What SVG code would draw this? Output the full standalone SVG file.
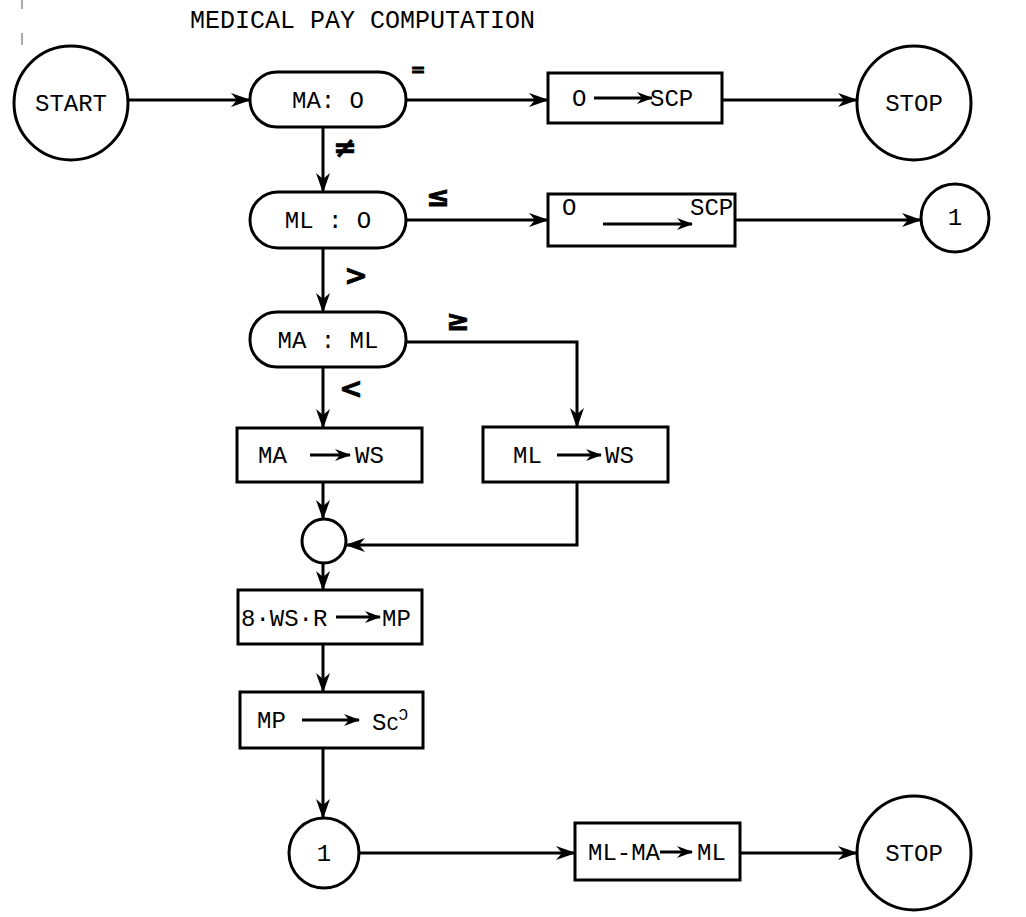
<svg xmlns="http://www.w3.org/2000/svg" width="1026" height="917" viewBox="0 0 1026 917">
<style>
.s{fill:#fff;stroke:#000;stroke-width:3}
.c{fill:none;stroke:#000;stroke-width:3}
.ia{fill:none;stroke:#000;stroke-width:3}
.t{font-family:"Liberation Mono","Courier New",monospace;font-size:24px;fill:#000}
.m{text-anchor:middle}
.l{font-family:"DejaVu Sans","Liberation Sans",sans-serif;font-weight:bold;font-size:28px;fill:#000;stroke:#000;stroke-width:0.8;text-anchor:middle}
</style>
<defs>
<marker id="ah" viewBox="0 0 20 14" refX="19" refY="7" markerWidth="20" markerHeight="14" markerUnits="userSpaceOnUse" orient="auto">
<path d="M0,0 L20,7 L0,14 L6,7 Z" fill="#000"/>
</marker>
<marker id="sa" viewBox="0 0 16 12" refX="15" refY="6" markerWidth="16" markerHeight="12" markerUnits="userSpaceOnUse" orient="auto">
<path d="M0,0 L16,6 L0,12 L5,6 Z" fill="#000"/>
</marker>
</defs>
<rect width="1026" height="917" fill="#fff"/>
<line x1="22" y1="0" x2="22" y2="9" stroke="#555" stroke-width="1"/>
<line x1="22" y1="33" x2="22" y2="45" stroke="#555" stroke-width="1"/>
<text class="t" x="190" y="28" style="font-size:25px">MEDICAL PAY COMPUTATION</text>

<g id="connectors">
<path class="c" d="M128,100 H250" marker-end="url(#ah)"/>
<path class="c" d="M406,100 H548" marker-end="url(#ah)"/>
<path class="c" d="M722,100 H857" marker-end="url(#ah)"/>
<path class="c" d="M323,127 V192" marker-end="url(#ah)"/>
<path class="c" d="M406,220 H548" marker-end="url(#ah)"/>
<path class="c" d="M735,220 H921" marker-end="url(#ah)"/>
<path class="c" d="M323,248 V312" marker-end="url(#ah)"/>
<path class="c" d="M406,342 H577 V427" marker-end="url(#ah)"/>
<path class="c" d="M323,367 V428" marker-end="url(#ah)"/>
<path class="c" d="M323,482 V519" marker-end="url(#ah)"/>
<path class="c" d="M577,482 V545 H346" marker-end="url(#ah)"/>
<path class="c" d="M323,563 V590" marker-end="url(#ah)"/>
<path class="c" d="M323,644 V692" marker-end="url(#ah)"/>
<path class="c" d="M323,748 V818" marker-end="url(#ah)"/>
<path class="c" d="M359,853 H575" marker-end="url(#ah)"/>
<path class="c" d="M740,853 H857" marker-end="url(#ah)"/>
<text class="l" x="418" y="76" style="font-size:18px">=</text>
<text class="l" x="345" y="157">≠</text>
<text class="l" x="438" y="206">≤</text>
<text class="l" x="356" y="285">&gt;</text>
<text class="l" x="458" y="330">≥</text>
<text class="l" x="351" y="398">&lt;</text>
</g>

<g id="start">
<circle class="s" cx="71" cy="103" r="57"/>
<text class="t m" x="71" y="111">START</text>
</g>
<g id="ma0">
<rect class="s" x="250" y="72" width="156" height="55" rx="27"/>
<text class="t m" x="328" y="108">MA: O</text>
</g>
<g id="set1">
<rect class="s" x="548" y="73" width="174" height="50"/>
<text class="t" x="572" y="106">O</text>
<path class="ia" d="M594,98 H652" marker-end="url(#sa)"/>
<text class="t" x="650" y="106">SCP</text>
</g>
<g id="stop1">
<circle class="s" cx="914" cy="103" r="57"/>
<text class="t m" x="914" y="111">STOP</text>
</g>
<g id="ml0">
<rect class="s" x="250" y="192" width="156" height="56" rx="28"/>
<text class="t m" x="328" y="228">ML : O</text>
</g>
<g id="set2">
<rect class="s" x="548" y="194" width="187" height="52"/>
<text class="t" x="562" y="215">O</text>
<path class="ia" d="M603,224 H692" marker-end="url(#sa)"/>
<text class="t" x="690" y="215">SCP</text>
</g>
<g id="conn1a">
<circle class="s" cx="955" cy="218" r="34"/>
<text class="t m" x="955" y="225">1</text>
</g>
<g id="maml">
<rect class="s" x="250" y="312" width="156" height="55" rx="27"/>
<text class="t m" x="328" y="348">MA : ML</text>
</g>
<g id="mawsbox">
<rect class="s" x="237" y="428" width="185" height="54"/>
<text class="t" x="258" y="463">MA</text>
<path class="ia" d="M310,455 H350" marker-end="url(#sa)"/>
<text class="t" x="355" y="463">WS</text>
</g>
<g id="mlwsbox">
<rect class="s" x="483" y="427" width="185" height="55"/>
<text class="t" x="513" y="463">ML</text>
<path class="ia" d="M557,455 H601" marker-end="url(#sa)"/>
<text class="t" x="605" y="463">WS</text>
</g>
<g id="merge">
<circle class="s" cx="324" cy="541" r="22"/>
</g>
<g id="mp">
<rect class="s" x="238" y="590" width="184" height="54"/>
<text class="t" x="241" y="626">8·WS·R</text>
<path class="ia" d="M336,617 H380" marker-end="url(#sa)"/>
<text class="t" x="382" y="626">MP</text>
</g>
<g id="mpscp">
<rect class="s" x="240" y="692" width="183" height="56"/>
<text class="t" x="257" y="728">MP</text>
<path class="ia" d="M302,720 H359" marker-end="url(#sa)"/>
<text class="t" x="372" y="730">S<tspan font-size="20">C</tspan><tspan font-size="16" dy="-10">Ͻ</tspan></text>
</g>
<g id="conn1b">
<circle class="s" cx="324" cy="853" r="35"/>
<text class="t m" x="324" y="861">1</text>
</g>
<g id="update">
<rect class="s" x="575" y="823" width="165" height="57"/>
<text class="t" x="588" y="860">ML-MA</text>
<path class="ia" d="M660,852 H692" marker-end="url(#sa)"/>
<text class="t" x="697" y="860">ML</text>
</g>
<g id="stop2">
<circle class="s" cx="914" cy="853" r="57"/>
<text class="t m" x="914" y="861">STOP</text>
</g>
</svg>
